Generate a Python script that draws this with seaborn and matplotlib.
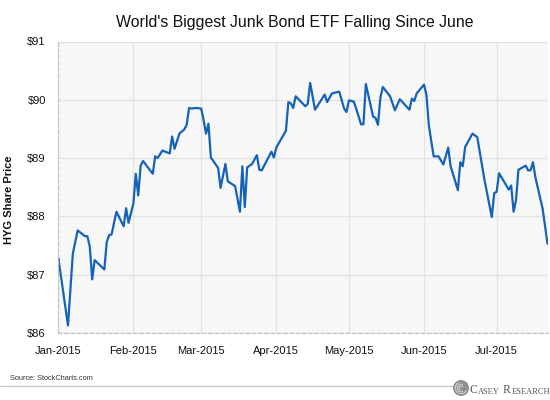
import matplotlib
matplotlib.use("Agg")
import matplotlib.pyplot as plt
import matplotlib.dates as mdates
import matplotlib.ticker as mticker
from matplotlib.patches import Circle, Wedge
import pandas as pd
import seaborn as sns

# ---------------- data ----------------
dates = [
    "2015-01-01", "2015-01-05", "2015-01-07", "2015-01-09", "2015-01-12", "2015-01-13",
    "2015-01-14", "2015-01-15", "2015-01-16", "2015-01-20", "2015-01-21", "2015-01-22",
    "2015-01-23", "2015-01-25", "2015-01-28", "2015-01-29", "2015-01-30", "2015-02-01",
    "2015-02-02", "2015-02-03", "2015-02-04", "2015-02-05", "2015-02-09", "2015-02-10",
    "2015-02-11", "2015-02-13", "2015-02-16", "2015-02-17", "2015-02-18", "2015-02-20",
    "2015-02-22", "2015-02-23", "2015-02-24", "2015-02-25", "2015-02-27", "2015-03-01",
    "2015-03-02", "2015-03-03", "2015-03-04", "2015-03-05", "2015-03-08", "2015-03-09",
    "2015-03-11", "2015-03-12", "2015-03-15", "2015-03-17", "2015-03-18", "2015-03-19",
    "2015-03-20", "2015-03-22", "2015-03-24", "2015-03-25", "2015-03-26", "2015-03-30",
    "2015-03-31", "2015-04-01", "2015-04-05", "2015-04-06", "2015-04-07", "2015-04-08",
    "2015-04-09", "2015-04-13", "2015-04-14", "2015-04-15", "2015-04-17", "2015-04-21",
    "2015-04-22", "2015-04-24", "2015-04-27", "2015-04-29", "2015-04-30", "2015-05-01",
    "2015-05-03", "2015-05-04", "2015-05-06", "2015-05-07", "2015-05-08", "2015-05-11",
    "2015-05-12", "2015-05-13", "2015-05-14", "2015-05-15", "2015-05-18", "2015-05-20",
    "2015-05-22", "2015-05-26", "2015-05-27", "2015-05-28", "2015-05-29", "2015-06-01",
    "2015-06-02", "2015-06-03", "2015-06-05", "2015-06-07", "2015-06-09", "2015-06-11",
    "2015-06-12", "2015-06-15", "2015-06-16", "2015-06-17", "2015-06-18", "2015-06-21",
    "2015-06-23", "2015-06-26", "2015-06-29", "2015-06-30", "2015-07-01", "2015-07-02",
    "2015-07-06", "2015-07-07", "2015-07-08", "2015-07-09", "2015-07-10", "2015-07-13",
    "2015-07-14", "2015-07-15", "2015-07-16", "2015-07-17", "2015-07-20", "2015-07-22",
]
prices = [
    87.29, 86.13, 87.36, 87.76, 87.66, 87.66,
    87.48, 86.92, 87.25, 87.09, 87.56, 87.68,
    87.69, 88.08, 87.83, 88.14, 87.89, 88.22,
    88.73, 88.36, 88.87, 88.95, 88.73, 89.03,
    89.00, 89.13, 89.08, 89.37, 89.16, 89.42,
    89.49, 89.57, 89.86, 89.85, 89.86, 89.85,
    89.65, 89.42, 89.59, 89.01, 88.83, 88.49,
    88.90, 88.60, 88.52, 88.08, 88.86, 88.16,
    88.84, 88.90, 89.05, 88.80, 88.79, 89.11,
    89.01, 89.18, 89.47, 89.96, 89.94, 89.86,
    90.06, 89.89, 89.93, 90.29, 89.83, 90.09,
    89.96, 90.11, 90.14, 89.85, 89.79, 89.99,
    89.97, 89.85, 89.58, 89.58, 90.27, 89.71,
    89.69, 89.57, 90.04, 90.22, 90.06, 89.82,
    90.01, 89.83, 90.02, 89.98, 90.11, 90.26,
    90.09, 89.56, 89.03, 89.03, 88.89, 89.18,
    88.86, 88.45, 88.93, 88.86, 89.19, 89.42,
    89.36, 88.62, 87.99, 88.40, 88.42, 88.74,
    88.46, 88.53, 88.08, 88.28, 88.80, 88.87,
    88.79, 88.79, 88.93, 88.67, 88.13, 87.53,
]
month_starts = ["2015-01-01", "2015-02-01", "2015-03-01", "2015-04-01",
                "2015-05-01", "2015-06-01", "2015-07-01"]
month_labels = ["Jan-2015", "Feb-2015", "Mar-2015", "Apr-2015",
                "May-2015", "Jun-2015", "Jul-2015"]
y_ticks = [86, 87, 88, 89, 90, 91]
y_labels = ["$86", "$87", "$88", "$89", "$90", "$91"]

title = "World's Biggest Junk Bond ETF Falling Since June"
y_title = "HYG Share Price"
source = "Source: StockCharts.com"

# ---------------- style ----------------
sns.set_theme(style="white")
FONT = ["Liberation Sans", "DejaVu Sans"]
plt.rcParams["font.family"] = FONT
plt.rcParams["axes.unicode_minus"] = False

df = pd.DataFrame({"date": pd.to_datetime(dates), "price": prices})

fig = plt.figure(figsize=(5.5, 4.0), dpi=100)
fig.patch.set_facecolor("white")
ax = fig.add_axes([58.3 / 550, 1 - 333 / 400, (548 - 58.3) / 550, (333 - 41.5) / 400])
ax.set_facecolor("#f7f7f7")

sns.lineplot(data=df, x="date", y="price", ax=ax, color="#1463b9", linewidth=1.6)

ax.set_xlim(pd.Timestamp("2015-01-01"), pd.Timestamp("2015-07-22 05:00"))
ax.set_ylim(86, 91)

ax.set_yticks(y_ticks)
ax.set_yticklabels(y_labels)
ax.set_xticks(pd.to_datetime(month_starts))
ax.set_xticklabels(month_labels)
ax.tick_params(axis="both", length=0, labelsize=8, colors="#111111")
ax.tick_params(axis="y", pad=9)
ax.tick_params(axis="x", pad=9.5)

ax.grid(True, color="#e3e3e3", linewidth=1.0)
ax.set_axisbelow(True)

for side in ["top", "right"]:
    ax.spines[side].set_visible(False)
for side in ["left", "bottom"]:
    ax.spines[side].set_color("#c4c4c4")
    ax.spines[side].set_linewidth(0.9)
    ax.spines[side].set_linestyle((0, (3, 2)))

ax.set_xlabel("")
ax.set_ylabel(y_title, fontsize=8, fontweight="bold", color="#111111")
ax.yaxis.set_label_coords(-0.091, 0.458)

fig.text(0.535, 1 - 27 / 400, title, ha="center", va="baseline",
         fontsize=11.4, color="#111111")

fig.text(10 / 550, 1 - 378 / 400, source, ha="left", va="center",
         fontsize=5.3, color="#333333")

# footer rule and logo
over = fig.add_axes([0, 0, 1, 1], facecolor="none")
over.set_xlim(0, 550)
over.set_ylim(400, 0)
over.axis("off")
over.plot([0, 452], [386, 386], color="#c8c8c8", linewidth=1.0)

cx, cy, r = 461, 388, 8.0
over.add_patch(Circle((cx, cy), r, facecolor="#8f8f8f", edgecolor="none"))
for rr, a1, a2 in [(6.2, 20, 250), (4.3, 60, 300), (2.4, 100, 340)]:
    over.add_patch(Wedge((cx, cy), rr, a1, a2, width=0.9, facecolor="#d9d9d9",
                         edgecolor="none"))

serif = ["Liberation Serif", "DejaVu Serif"]
t1 = over.text(470, 393, "C", fontsize=8.5, family=serif, color="#555555",
               ha="left", va="baseline")
t2 = over.annotate("ASEY", xy=(1, 0), xycoords=t1, xytext=(0.2, 0),
                   textcoords="offset points", fontsize=6, family=serif,
                   color="#555555", ha="left", va="bottom")
t3 = over.annotate("R", xy=(1, 0), xycoords=t2, xytext=(2.2, 0),
                   textcoords="offset points", fontsize=8.5, family=serif,
                   color="#555555", ha="left", va="bottom")
t4 = over.annotate("ESEARCH", xy=(1, 0), xycoords=t3, xytext=(0.2, 0),
                   textcoords="offset points", fontsize=6, family=serif,
                   color="#555555", ha="left", va="bottom")

fig.savefig("out.png", dpi=100)
